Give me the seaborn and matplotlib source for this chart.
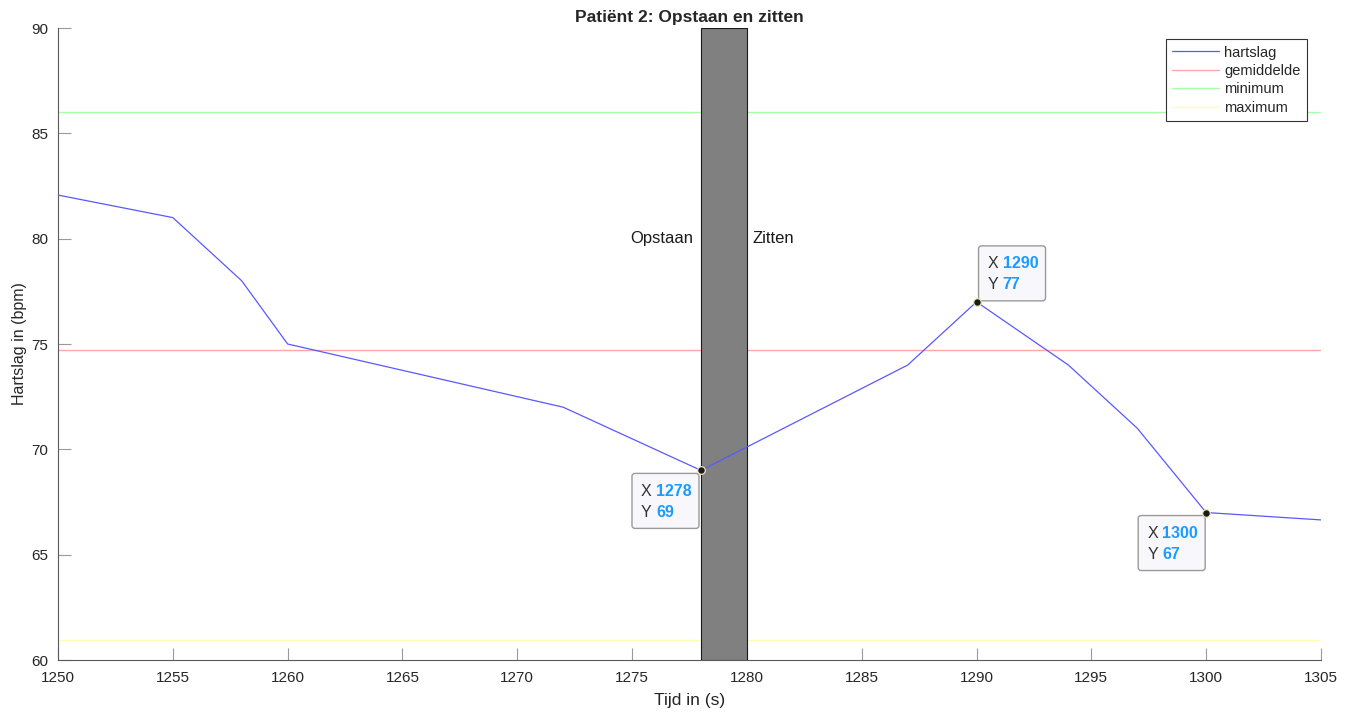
import numpy as np
import pandas as pd
import matplotlib
matplotlib.use("Agg")
import matplotlib.pyplot as plt
import matplotlib.transforms as mtransforms
from matplotlib.patches import FancyBboxPatch
import seaborn as sns

# ---- data ----
tijd = [1250, 1255, 1258, 1260, 1272, 1278, 1287, 1290, 1294, 1297, 1300, 1305]
hartslag = [82.07, 81, 78, 75, 72, 69, 74, 77, 74, 71, 67, 66.65]
gemiddelde = 74.71
minimum = 86.0
maximum = 60.95
interval = [1278, 1280]
labels_interval = ["Opstaan", "Zitten"]
datatips_x = [1278, 1290, 1300]
datatips_y = [69, 77, 67]
x_ticks = list(range(1250, 1306, 5))
y_ticks = list(range(60, 91, 5))

sns.set_style("white")
plt.rcParams['font.family'] = ['Liberation Sans', 'DejaVu Sans']

fig = plt.figure(figsize=(13.55, 7.15), dpi=100)
ax = fig.add_axes([58/1355, 55/715, (1321-58)/1355, (660-28)/715])

df = pd.DataFrame({"tijd": tijd, "hartslag": hartslag})
sns.lineplot(data=df, x="tijd", y="hartslag", ax=ax, color=(0.35, 0.35, 1.0),
             linewidth=0.9, label="hartslag", zorder=4)
ax.axhline(gemiddelde, color=(1.0, 0.65, 0.65), linewidth=1.0, label="gemiddelde", zorder=2)
ax.axhline(minimum, color=(0.65, 1.0, 0.65), linewidth=1.0, label="minimum", zorder=2)
ax.axhline(maximum, color=(1.0, 1.0, 0.7), linewidth=1.0, label="maximum", zorder=2)

ax.axvspan(interval[0], interval[1], facecolor="#808080", edgecolor="#1a1a1a",
           linewidth=0.8, zorder=3)
ax.annotate(labels_interval[0], (interval[0], 80), xytext=(-8, 0), textcoords="offset pixels",
            ha="right", va="center", fontsize=12, color="#1a1a1a")
ax.annotate(labels_interval[1], (interval[1], 80), xytext=(6, 0), textcoords="offset pixels",
            ha="left", va="center", fontsize=12, color="#1a1a1a")

ax.set_xlim(1250, 1305)
ax.set_ylim(60, 90)
ax.set_xticks(x_ticks)
ax.set_yticks(y_ticks)
ax.tick_params(bottom=True, left=True, top=False, right=False, direction="in",
               length=9, width=0.8, color="#9a9a9a", labelsize=11,
               labelcolor="#262626")
ax.tick_params(axis="x", pad=8)
ax.tick_params(axis="y", pad=7)
for s in ["top", "right"]:
    ax.spines[s].set_visible(False)
for s in ["left", "bottom"]:
    ax.spines[s].set_color("#5a5a5a")
    ax.spines[s].set_linewidth(0.8)

ax.set_xlabel("Tijd in (s)", fontsize=12.5, color="#262626", labelpad=6)
ax.set_ylabel("Hartslag in (bpm)", fontsize=11.5, color="#262626", labelpad=3)
ax.set_title("Patiënt 2: Opstaan en zitten", fontsize=12.5, fontweight="bold", pad=4)

leg = ax.legend(loc="upper right", bbox_to_anchor=((1307-58)/1263, (660-39)/632),
                borderaxespad=0, fontsize=10.5, handlelength=3.2, handletextpad=0.35,
                fancybox=False, framealpha=1, edgecolor="#333333", labelspacing=0.3,
                borderpad=0.45)
leg.get_frame().set_linewidth(0.8)

# ---- datatips ----
box_offsets = [(-69, -58), (2, 1), (-68, -58)]
for (dx, dy), xv, yv in zip(box_offsets, datatips_x, datatips_y):
    base = fig.dpi_scale_trans + mtransforms.ScaledTranslation(xv, yv, ax.transData)
    box = FancyBboxPatch((dx/100, dy/100), 0.67, 0.55,
                         boxstyle="round,pad=0,rounding_size=0.03",
                         facecolor="#f8f8fc", edgecolor="#9a9a9a", linewidth=1.0,
                         transform=base, zorder=6)
    ax.add_patch(box)
    for i, (lab, val) in enumerate([("X", xv), ("Y", yv)]):
        ty = (dy + 37 - 21*i) / 100
        ax.text((dx + 9)/100, ty, lab, transform=base, fontsize=11.5,
                color="#333333", va="center", ha="left", zorder=7)
        ax.text((dx + 24)/100, ty, f"{val:g}", transform=base, fontsize=11.5,
                color="#1a9bff", fontweight="bold", va="center", ha="left", zorder=7)
ax.plot(datatips_x, datatips_y, linestyle="none", marker="o", markersize=5.5,
        markerfacecolor="#1a1a1a", markeredgecolor="#e8e4b0", markeredgewidth=0.9,
        zorder=8)

fig.savefig("out.png", dpi=100)
